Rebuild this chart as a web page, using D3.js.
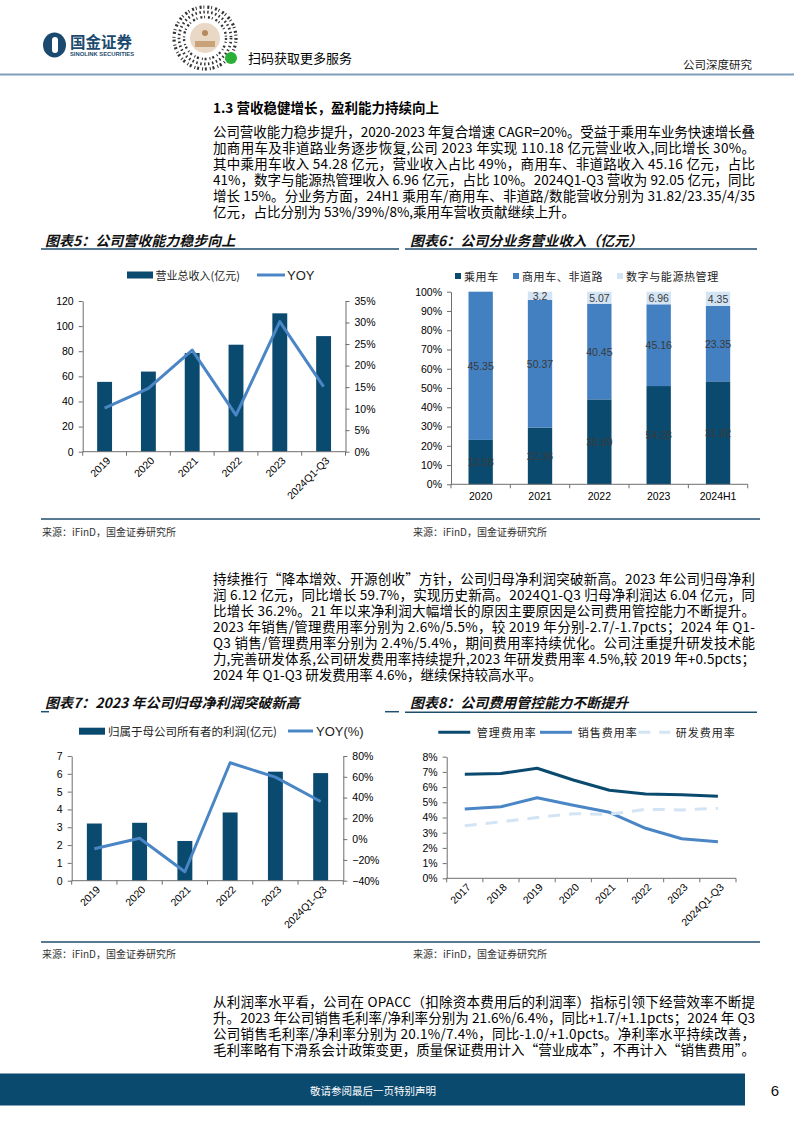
<!DOCTYPE html>
<html><head><meta charset="utf-8">
<script src="https://cdn.jsdelivr.net/npm/d3@7"></script>
<style>body{margin:0;background:#fff} svg{display:block}</style>
</head><body>
<svg id="page" width="794" height="1123"></svg>
<script>
// ---------------- data ----------------
const revYears = ["2019","2020","2021","2022","2023","2024Q1-Q3"];
const revenue  = [55.6, 63.8, 78.6, 85.2, 110.18, 92.05];
const revYoy   = [0.101, 0.147, 0.236, 0.085, 0.302, 0.151];
const revTicksL = [0,20,40,60,80,100,120];
const revTicksR = [0,0.05,0.10,0.15,0.20,0.25,0.30,0.35];

const segYears   = ["2020","2021","2022","2023","2024H1"];
const segNames   = ["乘用车","商用车、非道路","数字与能源热管理"];
const passenger  = [13.58, 22.36, 35.89, 54.28, 31.82];
const commercial = [45.35, 50.37, 40.45, 45.16, 23.35];
const digital    = [0, 3.2, 5.07, 6.96, 4.35];
const segTicks   = [0,0.1,0.2,0.3,0.4,0.5,0.6,0.7,0.8,0.9,1.0];

const profitYears = ["2019","2020","2021","2022","2023","2024Q1-Q3"];
const netProfit   = [3.21, 3.25, 2.23, 3.83, 6.12, 6.04];
const profitYoy   = [-0.092, 0.009, -0.314, 0.735, 0.597, 0.362];
const profTicksL  = [0,1,2,3,4,5,6,7];
const profTicksR  = [-0.4,-0.2,0,0.2,0.4,0.6,0.8];

const expYears  = ["2017","2018","2019","2020","2021","2022","2023","2024Q1-Q3"];
const mgmtRate  = [0.0684,0.0690,0.0724,0.0647,0.0579,0.0555,0.0550,0.0540];
const salesRate = [0.0456,0.0471,0.0530,0.0480,0.0434,0.0329,0.0260,0.0240];
const rdRate    = [0.0346,0.0372,0.0400,0.0425,0.0421,0.0454,0.0450,0.0460];
const expNames  = ["管理费用率","销售费用率","研发费用率"];
const expTicks  = [0,0.01,0.02,0.03,0.04,0.05,0.06,0.07,0.08];

const para1 = [
 "公司营收能力稳步提升，2020-2023 年复合增速 CAGR=20%。受益于乘用车业务快速增长叠",
 "加商用车及非道路业务逐步恢复,公司 2023 年实现 110.18 亿元营业收入,同比增长 30%。",
 "其中乘用车收入 54.28 亿元，营业收入占比 49%，商用车、非道路收入 45.16 亿元，占比",
 "41%，数字与能源热管理收入 6.96 亿元，占比 10%。2024Q1-Q3 营收为 92.05 亿元，同比",
 "增长 15%。分业务方面，24H1 乘用车/商用车、非道路/数能营收分别为 31.82/23.35/4/35",
 "亿元，占比分别为 53%/39%/8%,乘用车营收贡献继续上升。"
];
const para2 = [
 "持续推行“降本增效、开源创收”方针，公司归母净利润突破新高。2023 年公司归母净利",
 "润 6.12 亿元，同比增长 59.7%，实现历史新高。2024Q1-Q3 归母净利润达 6.04 亿元，同",
 "比增长 36.2%。21 年以来净利润大幅增长的原因主要原因是公司费用管控能力不断提升。",
 "2023 年销售/管理费用率分别为 2.6%/5.5%，较 2019 年分别-2.7/-1.7pcts；2024 年 Q1-",
 "Q3 销售/管理费用率分别为 2.4%/5.4%，期间费用率持续优化。公司注重提升研发技术能",
 "力,完善研发体系,公司研发费用率持续提升,2023 年研发费用率 4.5%,较 2019 年+0.5pcts；",
 "2024 年 Q1-Q3 研发费用率 4.6%，继续保持较高水平。"
];
const para3 = [
 "从利润率水平看，公司在 OPACC（扣除资本费用后的利润率）指标引领下经营效率不断提",
 "升。2023 年公司销售毛利率/净利率分别为 21.6%/6.4%，同比+1.7/+1.1pcts；2024 年 Q3",
 "公司销售毛利率/净利率分别为 20.1%/7.4%，同比-1.0/+1.0pcts。净利率水平持续改善，",
 "毛利率略有下滑系会计政策变更，质量保证费用计入“营业成本”，不再计入“销售费用”。"
];

// ---------------- styles ----------------
const NAVY = "#0b4a6f", MID = "#4a86c5", LIGHT = "#d3e4f4", BAR_MID = "#4280c1";
const AX = "#6e6e6e";
const CJK = "'Noto Sans CJK SC', sans-serif";
const NUM = "'Liberation Sans', Arial, sans-serif";

const svg = d3.select("#page");
svg.append("rect").attr("width",794).attr("height",1123).attr("fill","#fff");

// ---------------- header ----------------
const hdr = svg.append("g");
hdr.append("ellipse").attr("cx",54.5).attr("cy",45).attr("rx",11.5).attr("ry",12.5).attr("fill","#1c4a6e");
hdr.append("rect").attr("x",52).attr("y",37).attr("width",6).attr("height",16).attr("rx",3).attr("fill","#fff");
hdr.append("text").attr("x",70).attr("y",48).attr("font-family",CJK).attr("font-weight","bold")
  .attr("font-size",15.5).attr("fill","#1c4a6e").text("国金证券");
hdr.append("text").attr("x",70).attr("y",56).attr("font-family",NUM).attr("font-weight","bold")
  .attr("font-size",5.8).attr("fill","#1c4a6e").text("SINOLINK SECURITIES");
const qr = hdr.append("g");
[31,26,21].forEach((r,i)=>qr.append("circle").attr("cx",205).attr("cy",38).attr("r",r)
  .attr("fill","none").attr("stroke","#333").attr("stroke-width",3.2-i*0.4)
  .attr("stroke-dasharray",i%2?"1.5,2.5":"2,1.8,1,3"));
qr.append("circle").attr("cx",205).attr("cy",38).attr("r",15).attr("fill","#e9d8c5");
qr.append("circle").attr("cx",205).attr("cy",33).attr("r",3).attr("fill","#b78a5c");
qr.append("rect").attr("x",195).attr("y",41).attr("width",20).attr("height",6).attr("fill","#c9a27a");
qr.append("circle").attr("cx",231).attr("cy",58).attr("r",6).attr("fill","#2ab036");
hdr.append("text").attr("x",248).attr("y",63).attr("font-family",CJK).attr("font-size",13)
  .attr("fill","#000").text("扫码获取更多服务");
hdr.append("text").attr("x",683).attr("y",69).attr("font-family",CJK).attr("font-size",11.5)
  .attr("fill","#222").text("公司深度研究");
hdr.append("line").attr("x1",0).attr("x2",794).attr("y1",74.5).attr("y2",74.5)
  .attr("stroke","#7f9fbd").attr("stroke-width",2.2);

// ---------------- paragraphs ----------------
function paragraph(lines, x, y0, lh, width, lastJustify) {
  const g = svg.append("g").attr("font-family",CJK).attr("font-size",13.5).attr("fill","#000");
  lines.forEach((t,i)=>{
    const tx = g.append("text").attr("x",x).attr("y",y0+i*lh).attr("dominant-baseline","central").text(t);
    if (i < lines.length-1 || lastJustify) tx.attr("textLength",width).attr("lengthAdjust","spacing");
  });
}
svg.append("text").attr("x",213).attr("y",107).attr("dominant-baseline","central")
  .attr("font-family",CJK).attr("font-weight","bold").attr("font-size",13.5).attr("fill","#000")
  .text("1.3 营收稳健增长，盈利能力持续向上");
paragraph(para1, 213, 131, 16, 542, false);
paragraph(para2, 213, 578, 16, 542, false);
paragraph(para3, 213, 1001, 16, 542, true);

// ---------------- chart titles / frames ----------------
function chartTitle(text, x, y) {
  svg.append("text").attr("x",x).attr("y",y).attr("dominant-baseline","central")
    .attr("font-family",CJK).attr("font-weight","bold").attr("font-style","italic")
    .attr("font-size",14).attr("fill","#111").text(text);
}
function hline(x1,x2,y,w,c){ svg.append("line").attr("x1",x1).attr("x2",x2).attr("y1",y).attr("y2",y)
  .attr("stroke",c||"#1f4e6e").attr("stroke-width",w||1.5); }
chartTitle("图表5：公司营收能力稳步向上", 45, 240);
chartTitle("图表6：公司分业务营业收入（亿元）", 410, 240);
chartTitle("图表7：2023 年公司归母净利润突破新高", 45, 702);
chartTitle("图表8：公司费用管控能力不断提升", 410, 702);
hline(41,399,249); hline(405,757,249);
hline(41,49,711.7); hline(385,399,711.7); hline(405,757,712.3);
hline(41,760,519); hline(41,760,942);
function source(x,y){ svg.append("text").attr("x",x).attr("y",y).attr("dominant-baseline","central")
  .attr("font-family",CJK).attr("font-size",10).attr("fill","#333").text("来源：iFinD，国金证券研究所"); }
source(42,531); source(413,531); source(42,953); source(413,953);

// ---------------- helpers ----------------
function yAxis(scale, x, orient, vals, fmt) {
  const ax = (orient==="left"?d3.axisLeft(scale):d3.axisRight(scale))
    .tickValues(vals).tickFormat(fmt).tickSize(4).tickSizeOuter(0).tickPadding(5);
  const a = svg.append("g").attr("transform",`translate(${x},0)`).call(ax)
    .attr("font-family",NUM).attr("font-size",10.5);
  a.select(".domain").attr("stroke",AX);
  a.selectAll(".tick line").attr("stroke",AX);
  a.selectAll(".tick text").attr("fill","#000");
  return a;
}
function xBase(band, y, n) {
  const [r0,r1] = band.range();
  svg.append("line").attr("x1",r0).attr("x2",r1).attr("y1",y).attr("y2",y).attr("stroke",AX);
  const step = (r1-r0)/n;
  svg.append("g").selectAll("line").data(d3.range(n+1)).join("line")
    .attr("x1",i=>r0+i*step).attr("x2",i=>r0+i*step).attr("y1",y).attr("y2",y+4).attr("stroke",AX);
}
function rotLabels(cats, cx, y) {
  svg.append("g").attr("font-family",NUM).attr("font-size",10.5).attr("fill","#000")
    .selectAll("text").data(cats).join("text")
    .attr("transform",d=>`translate(${cx(d)+4},${y+7}) rotate(-45)`)
    .attr("text-anchor","end").attr("dy","0.35em").text(d=>d);
}

// ---------------- chart 5 ----------------
{
  const x = d3.scaleBand().domain(revYears).range([82.7,345.5]).paddingInner(0.66).paddingOuter(0.33);
  const yL = d3.scaleLinear().domain([0,120]).range([451.7,301]);
  const yR = d3.scaleLinear().domain([0,0.35]).range([451.7,301]);
  svg.append("g").selectAll("rect").data(revYears).join("rect")
    .attr("x",d=>x(d)).attr("width",x.bandwidth())
    .attr("y",(d,i)=>yL(revenue[i])).attr("height",(d,i)=>yL(0)-yL(revenue[i])).attr("fill",NAVY);
  xBase(x, 451.7, revYears.length);
  yAxis(yL, 82.7, "left", revTicksL, d3.format("d"));
  yAxis(yR, 345.5, "right", revTicksR, d3.format(".0%"));
  const cx = d=>x(d)+x.bandwidth()/2;
  svg.append("path").datum(revYears).attr("fill","none").attr("stroke",MID).attr("stroke-width",3)
    .attr("stroke-linejoin","round")
    .attr("d", d3.line().x(d=>cx(d)).y((d,i)=>yR(revYoy[i])));
  rotLabels(revYears, cx, 451.7);
  svg.append("rect").attr("x",127).attr("y",271.5).attr("width",26).attr("height",7).attr("fill",NAVY);
  svg.append("text").attr("x",155.5).attr("y",275).attr("dominant-baseline","central")
    .attr("font-family",CJK).attr("font-size",11).attr("fill","#222").text("营业总收入(亿元)");
  svg.append("line").attr("x1",257).attr("x2",285).attr("y1",275).attr("y2",275).attr("stroke",MID).attr("stroke-width",3);
  svg.append("text").attr("x",287).attr("y",275).attr("dominant-baseline","central")
    .attr("font-family",NUM).attr("font-size",13).attr("fill","#222").text("YOY");
}

// ---------------- chart 6 ----------------
{
  const rows = segYears.map((y,i)=>({year:y, a:passenger[i], b:commercial[i], c:digital[i]}));
  const keys = ["a","b","c"], cols = [NAVY, BAR_MID, LIGHT];
  const stack = d3.stack().keys(keys).offset(d3.stackOffsetExpand)(rows);
  const x = d3.scaleBand().domain(segYears).range([451,747.7]).paddingInner(0.59).paddingOuter(0.295);
  const y = d3.scaleLinear().domain([0,1]).range([484.3,291.7]);
  stack.forEach((s,k)=>{
    svg.append("g").selectAll("rect").data(s).join("rect")
      .attr("x",d=>x(d.data.year)).attr("width",x.bandwidth())
      .attr("y",d=>y(d[1])).attr("height",d=>y(d[0])-y(d[1])).attr("fill",cols[k]);
    svg.append("g").attr("font-family",NUM).attr("font-size",10.5).attr("fill","#3a3a3a")
      .selectAll("text").data(s.filter(d=>d.data[keys[k]]>0)).join("text")
      .attr("x",d=>x(d.data.year)+x.bandwidth()/2).attr("y",d=>y((d[0]+d[1])/2))
      .attr("text-anchor","middle").attr("dominant-baseline","central")
      .text(d=>d.data[keys[k]]);
  });
  xBase(x, 484.3, segYears.length);
  yAxis(y, 451, "left", segTicks, d3.format(".0%"));
  svg.append("g").attr("font-family",NUM).attr("font-size",10.5).attr("fill","#000")
    .selectAll("text").data(segYears).join("text")
    .attr("x",d=>x(d)+x.bandwidth()/2).attr("y",500).attr("text-anchor","middle").text(d=>d);
  const lx = [455, 513, 617];
  segNames.forEach((n,i)=>{
    svg.append("rect").attr("x",lx[i]).attr("y",273).attr("width",6).attr("height",6).attr("fill",cols[i]);
    svg.append("text").attr("x",lx[i]+9).attr("y",276).attr("dominant-baseline","central")
      .attr("font-family",CJK).attr("font-size",11).attr("letter-spacing",0.6).attr("fill","#222").text(n);
  });
}

// ---------------- chart 7 ----------------
{
  const x = d3.scaleBand().domain(profitYears).range([71.7,343.3]).paddingInner(0.67).paddingOuter(0.335);
  const yL = d3.scaleLinear().domain([0,7]).range([880.7,756]);
  const yR = d3.scaleLinear().domain([-0.4,0.8]).range([880.7,756]);
  svg.append("g").selectAll("rect").data(profitYears).join("rect")
    .attr("x",d=>x(d)).attr("width",x.bandwidth())
    .attr("y",(d,i)=>yL(netProfit[i])).attr("height",(d,i)=>yL(0)-yL(netProfit[i])).attr("fill",NAVY);
  xBase(x, 880.7, profitYears.length);
  yAxis(yL, 71.7, "left", profTicksL, d3.format("d"));
  yAxis(yR, 343.3, "right", profTicksR, d3.format(".0%"));
  const cx = d=>x(d)+x.bandwidth()/2;
  svg.append("path").datum(profitYears).attr("fill","none").attr("stroke",MID).attr("stroke-width",3)
    .attr("stroke-linejoin","round")
    .attr("d", d3.line().x(d=>cx(d)).y((d,i)=>yR(profitYoy[i])));
  rotLabels(profitYears, cx, 880.7);
  svg.append("rect").attr("x",79).attr("y",727.7).attr("width",26).attr("height",7).attr("fill",NAVY);
  svg.append("text").attr("x",108).attr("y",731).attr("dominant-baseline","central")
    .attr("font-family",CJK).attr("font-size",11.5).attr("fill","#222").text("归属于母公司所有者的利润(亿元)");
  svg.append("line").attr("x1",288).attr("x2",313).attr("y1",731).attr("y2",731).attr("stroke",MID).attr("stroke-width",3);
  svg.append("text").attr("x",316).attr("y",731).attr("dominant-baseline","central")
    .attr("font-family",NUM).attr("font-size",13).attr("fill","#222").text("YOY(%)");
}

// ---------------- chart 8 ----------------
{
  const x = d3.scaleBand().domain(expYears).range([446.7,736]);
  const y = d3.scaleLinear().domain([0,0.08]).range([878.3,756.7]);
  const cx = d=>x(d)+x.bandwidth()/2;
  xBase(x, 878.3, expYears.length);
  yAxis(y, 446.7, "left", expTicks, d3.format(".0%"));
  const series = [mgmtRate, salesRate, rdRate];
  const cols = [NAVY, MID, LIGHT], dash = [null,null,"12,9"];
  series.forEach((s,k)=>{
    const p = svg.append("path").datum(expYears).attr("fill","none").attr("stroke",cols[k]).attr("stroke-width",3)
      .attr("stroke-linejoin","round")
      .attr("d", d3.line().x(d=>cx(d)).y((d,i)=>y(s[i])));
    if (dash[k]) p.attr("stroke-dasharray",dash[k]);
  });
  rotLabels(expYears, cx, 878.3);
  const lx = [438.3, 540, 638.3], tx = [476.7, 577.7, 675.7];
  expNames.forEach((n,k)=>{
    const l = svg.append("line").attr("x1",lx[k]).attr("x2",lx[k]+32).attr("y1",732.3).attr("y2",732.3)
      .attr("stroke",cols[k]).attr("stroke-width",3);
    if (dash[k]) l.attr("stroke-dasharray",dash[k]);
    svg.append("text").attr("x",tx[k]).attr("y",732.3).attr("dominant-baseline","central")
      .attr("font-family",CJK).attr("font-size",11).attr("letter-spacing",1).attr("fill","#222").text(n);
  });
}

// ---------------- footer ----------------
svg.append("rect").attr("x",0).attr("y",1073.5).attr("width",745).attr("height",32).attr("fill","#0b4a6f");
svg.append("text").attr("x",373).attr("y",1090).attr("text-anchor","middle").attr("dominant-baseline","central")
  .attr("font-family",CJK).attr("font-size",10.5).attr("fill","#fff").text("敬请参阅最后一页特别声明");
svg.append("text").attr("x",775).attr("y",1090).attr("text-anchor","middle").attr("dominant-baseline","central")
  .attr("font-family",NUM).attr("font-size",15).attr("fill","#111").text("6");
</script>
</body></html>
